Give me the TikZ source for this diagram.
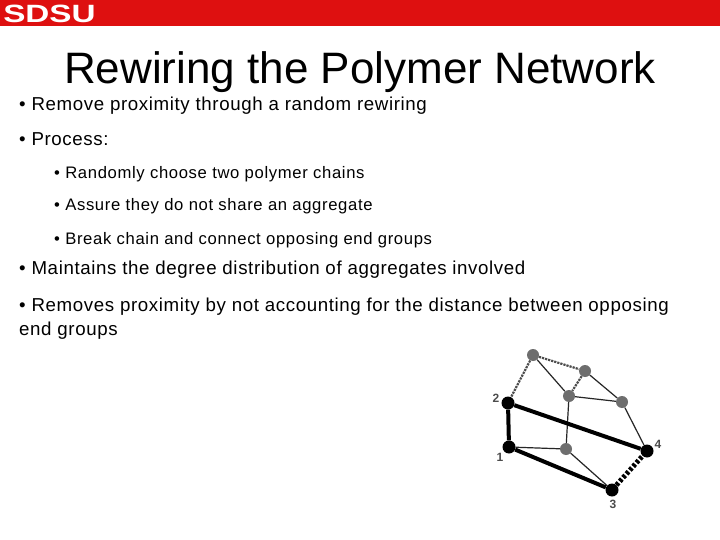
\documentclass[tikz,border=0pt]{standalone}
\usepackage{fontspec}
\setmainfont{Liberation Sans}
\newfontfamily\bodyfont[LetterSpace=3.3]{Liberation Sans}
\newfontfamily\subfont[LetterSpace=3.9]{Liberation Sans}
\definecolor{sdsured}{RGB}{222,16,16}
\definecolor{graydot}{RGB}{110,110,110}
\tikzset{
  body/.style={anchor=base west,inner sep=0pt,font=\bodyfont\fontsize{18.7}{22}\selectfont},
  sub/.style={anchor=base west,inner sep=0pt,font=\subfont\fontsize{16.65}{20}\selectfont},
  black dot/.style={circle,fill=black,inner sep=0pt,minimum size=13pt},
  gray dot/.style={circle,fill=graydot,inner sep=0pt,minimum size=12pt},
  num/.style={inner sep=0pt,text=black!70,font=\fontsize{12}{14}\bfseries\selectfont},
}
\begin{document}
\begin{tikzpicture}[x=1pt,y=-1pt]
  \useasboundingbox (0,0) rectangle (720,540);
  \fill[white] (0,0) rectangle (720,540);
  \fill[sdsured] (0,0) rectangle (720,26);
  \node (logo) at (49.5,13.5) [inner sep=0pt,text=white,xscale=1.33,font=\fontsize{25}{25}\bfseries\selectfont] {SDSU};
  \node (title) at (360,72) [inner sep=0pt,font=\fontsize{44}{50}\selectfont] {Rewiring the Polymer Network};
  \node[body] (l1) at (19,111) {• Remove proximity through a random rewiring};
  \node[body] (l2) at (19,146) {• Process:};
  \node[sub] (l3) at (54,179) {• Randomly choose two polymer chains};
  \node[sub] (l4) at (54,211) {• Assure they do not share an aggregate};
  \node[sub] (l5) at (54,244) {• Break chain and connect opposing end groups};
  \node[body] (l6) at (19,274) {• Maintains the degree distribution of aggregates involved};
  \node[body] (l7) at (19,311) {• Removes proximity by not accounting for the distance between opposing};
  \node[body] (l8) at (19,335) {end groups};
  % gray part of the network
  \node[gray dot] (5) at (533,355) {};
  \node[gray dot] (6) at (585,371) {};
  \node[gray dot] (7) at (569,396) {};
  \node[gray dot] (8) at (622,402) {};
  \node[gray dot] (9) at (566,449) {};
  % black part of the network
  \node[black dot] (2) at (508,403) {};
  \node[black dot] (1) at (509,447) {};
  \node[black dot] (4) at (647,451) {};
  \node[black dot] (3) at (612,490) {};
  \node[num] (n2) at (496,398) {2};
  \node[num] (n1) at (500,457) {1};
  \node[num] (n4) at (658,444) {4};
  \node[num] (n3) at (613,504) {3};
  \begin{scope}[black!85,line width=1.2pt]
    \draw (5) to (7);
    \draw (6) to (8);
    \draw (8) to (4);
    \draw (9) to (3);
    \draw (7) to (9);
    \draw (7) to (8);
    \draw (1) to (9);
  \end{scope}
  \begin{scope}[black!70,line width=2.2pt,densely dotted]
    \draw (5) to (2);
    \draw (5) to (6);
    \draw (6) to (7);
  \end{scope}
  \begin{scope}[line width=4pt]
    \draw (2) to (4);
    \draw (1) to (3);
    \draw (1) to (2);
    \draw[line width=5pt,densely dashed] (3) to (4);
  \end{scope}
\end{tikzpicture}
\end{document}
